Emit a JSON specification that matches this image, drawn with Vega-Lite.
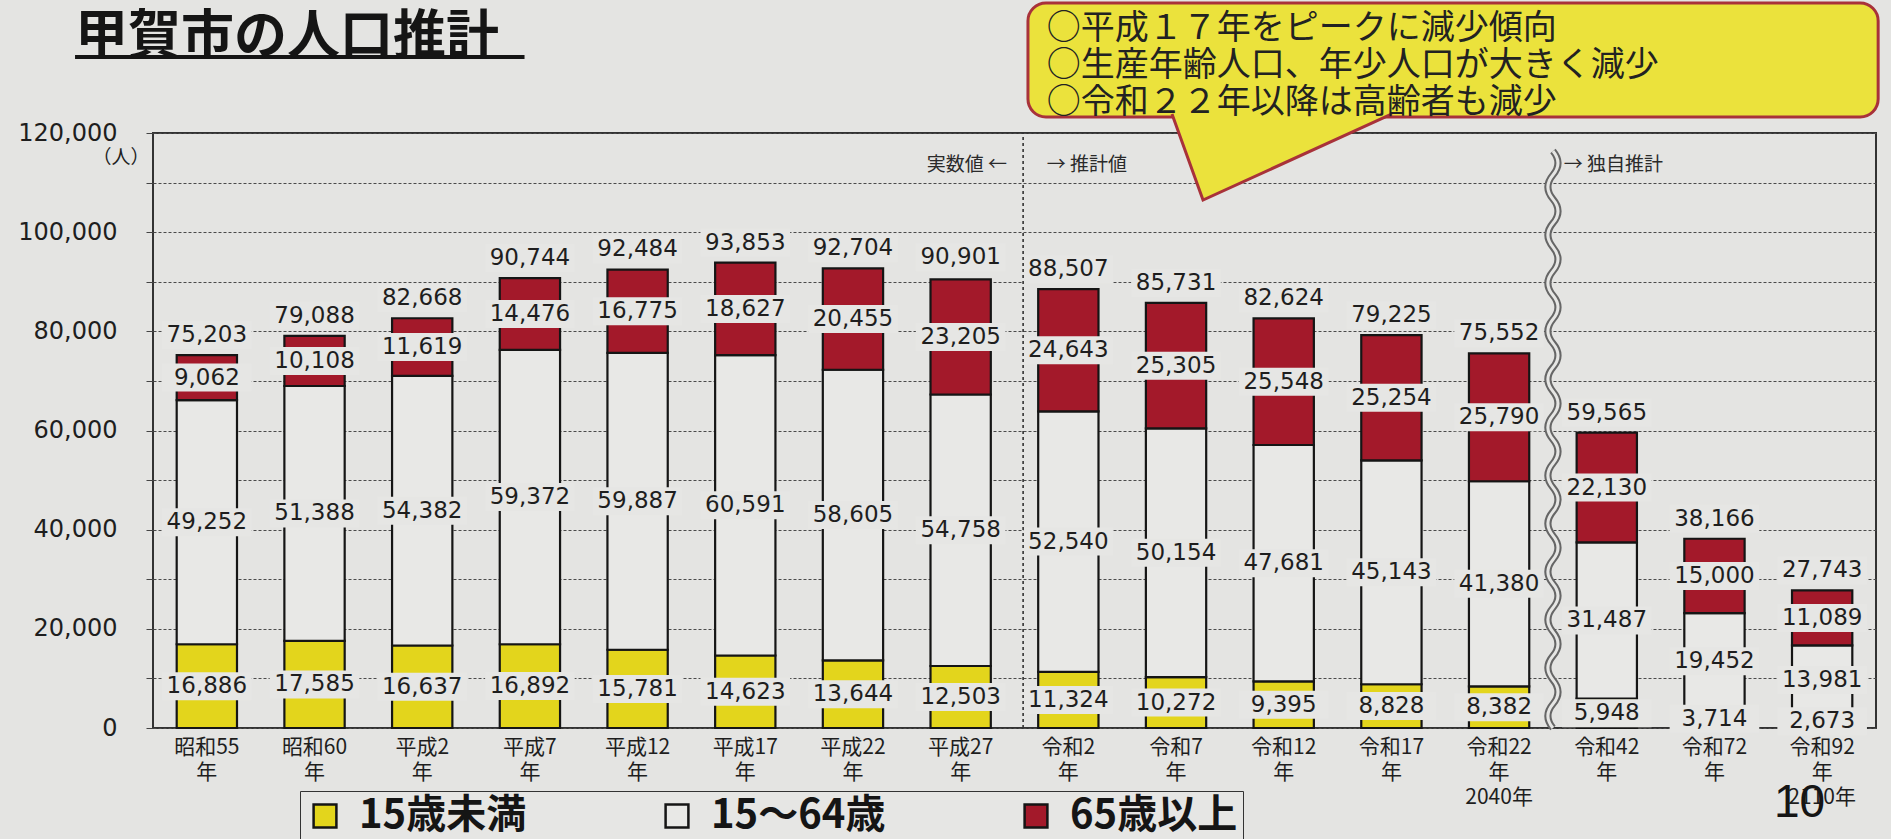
{
  "$schema": "https://vega.github.io/schema/vega-lite/v6.json",
  "width": 1723,
  "height": 595,
  "autosize": {"type": "none"},
  "padding": {"left": 153, "top": 133, "right": 15, "bottom": 111},
  "background": "#e4e4e2",
  "config": {
    "view": {"stroke": "#333333", "strokeWidth": 2, "fill": "#e4e4e2"},
    "font": "Noto Sans CJK JP"
  },
  "title": {
    "text": "甲賀市の人口推計",
    "anchor": "start",
    "frame": "group",
    "font": "Noto Sans CJK JP",
    "fontSize": 53,
    "fontWeight": "bold",
    "color": "#151515",
    "dx": -78,
    "offset": -63
  },
  "datasets": {
    "population": [
      {"year": "昭和55年", "age": "15歳未満", "population": 16886},
      {"year": "昭和55年", "age": "15～64歳", "population": 49252},
      {"year": "昭和55年", "age": "65歳以上", "population": 9062},
      {"year": "昭和60年", "age": "15歳未満", "population": 17585},
      {"year": "昭和60年", "age": "15～64歳", "population": 51388},
      {"year": "昭和60年", "age": "65歳以上", "population": 10108},
      {"year": "平成2年", "age": "15歳未満", "population": 16637},
      {"year": "平成2年", "age": "15～64歳", "population": 54382},
      {"year": "平成2年", "age": "65歳以上", "population": 11619},
      {"year": "平成7年", "age": "15歳未満", "population": 16892},
      {"year": "平成7年", "age": "15～64歳", "population": 59372},
      {"year": "平成7年", "age": "65歳以上", "population": 14476},
      {"year": "平成12年", "age": "15歳未満", "population": 15781},
      {"year": "平成12年", "age": "15～64歳", "population": 59887},
      {"year": "平成12年", "age": "65歳以上", "population": 16775},
      {"year": "平成17年", "age": "15歳未満", "population": 14623},
      {"year": "平成17年", "age": "15～64歳", "population": 60591},
      {"year": "平成17年", "age": "65歳以上", "population": 18627},
      {"year": "平成22年", "age": "15歳未満", "population": 13644},
      {"year": "平成22年", "age": "15～64歳", "population": 58605},
      {"year": "平成22年", "age": "65歳以上", "population": 20455},
      {"year": "平成27年", "age": "15歳未満", "population": 12503},
      {"year": "平成27年", "age": "15～64歳", "population": 54758},
      {"year": "平成27年", "age": "65歳以上", "population": 23205},
      {"year": "令和2年", "age": "15歳未満", "population": 11324},
      {"year": "令和2年", "age": "15～64歳", "population": 52540},
      {"year": "令和2年", "age": "65歳以上", "population": 24643},
      {"year": "令和7年", "age": "15歳未満", "population": 10272},
      {"year": "令和7年", "age": "15～64歳", "population": 50154},
      {"year": "令和7年", "age": "65歳以上", "population": 25305},
      {"year": "令和12年", "age": "15歳未満", "population": 9395},
      {"year": "令和12年", "age": "15～64歳", "population": 47681},
      {"year": "令和12年", "age": "65歳以上", "population": 25548},
      {"year": "令和17年", "age": "15歳未満", "population": 8828},
      {"year": "令和17年", "age": "15～64歳", "population": 45143},
      {"year": "令和17年", "age": "65歳以上", "population": 25254},
      {"year": "令和22年", "age": "15歳未満", "population": 8382},
      {"year": "令和22年", "age": "15～64歳", "population": 41380},
      {"year": "令和22年", "age": "65歳以上", "population": 25790},
      {"year": "令和42年", "age": "15歳未満", "population": 5948},
      {"year": "令和42年", "age": "15～64歳", "population": 31487},
      {"year": "令和42年", "age": "65歳以上", "population": 22130},
      {"year": "令和72年", "age": "15歳未満", "population": 3714},
      {"year": "令和72年", "age": "15～64歳", "population": 19452},
      {"year": "令和72年", "age": "65歳以上", "population": 15000},
      {"year": "令和92年", "age": "15歳未満", "population": 2673},
      {"year": "令和92年", "age": "15～64歳", "population": 13981},
      {"year": "令和92年", "age": "65歳以上", "population": 11089}
    ],
    "totals": [
      {"year": "昭和55年", "total": 75203},
      {"year": "昭和60年", "total": 79088},
      {"year": "平成2年", "total": 82668},
      {"year": "平成7年", "total": 90744},
      {"year": "平成12年", "total": 92484},
      {"year": "平成17年", "total": 93853},
      {"year": "平成22年", "total": 92704},
      {"year": "平成27年", "total": 90901},
      {"year": "令和2年", "total": 88507},
      {"year": "令和7年", "total": 85731},
      {"year": "令和12年", "total": 82624},
      {"year": "令和17年", "total": 79225},
      {"year": "令和22年", "total": 75552},
      {"year": "令和42年", "total": 59565},
      {"year": "令和72年", "total": 38166},
      {"year": "令和92年", "total": 27743}
    ]
  },
  "layer": [
    {
      "layer": [
        {
          "data": {"name": "population"},
          "mark": {"type": "bar", "stroke": "#151515", "strokeWidth": 2.2},
          "encoding": {
            "x": {
              "field": "year", "type": "nominal",
              "scale": {
                "domain": ["昭和55年", "昭和60年", "平成2年", "平成7年", "平成12年", "平成17年", "平成22年", "平成27年", "令和2年", "令和7年", "令和12年", "令和17年", "令和22年", "令和42年", "令和72年", "令和92年"],
                "paddingInner": 0.44, "paddingOuter": 0.22
              },
              "axis": {
                "title": null,
                "labelAngle": 0,
                "labelFont": "Noto Sans CJK JP",
                "labelFontSize": 21,
                "labelLineHeight": 25,
                "labelColor": "#1e1e1e",
                "labelPadding": 8,
                "ticks": false,
                "domain": false,
                "labelExpr": "datum.label === '令和22年' ? ['令和22', '年', '2040年'] : datum.label === '令和92年' ? ['令和92', '年', '2110年'] : [slice(datum.label, 0, -1), '年']"
              }
            },
            "y": {
              "field": "population", "type": "quantitative", "stack": "zero",
              "scale": {"domain": [0, 120000], "nice": false},
              "axis": {
                "values": [0, 10000, 20000, 30000, 40000, 50000, 60000, 70000, 80000, 90000, 100000, 110000, 120000],
                "labelExpr": "datum.value % 20000 === 0 ? format(datum.value, ',') : ''",
                "labelFont": "DejaVu Sans",
                "labelFontSize": 24,
                "labelColor": "#1e1e1e",
                "labelPadding": 29,
                "tickSize": 7,
                "tickColor": "#444444",
                "domain": false,
                "grid": true,
                "gridColor": "#4a4a4a",
                "gridDash": [3, 2],
                "gridWidth": 1,
                "title": "（人）",
                "titleAngle": 0,
                "titleAlign": "right",
                "titleBaseline": "middle",
                "titleX": -4,
                "titleY": 24,
                "titleFont": "Noto Sans CJK JP",
                "titleFontSize": 19,
                "titleFontWeight": "normal",
                "titleColor": "#1e1e1e"
              }
            },
            "color": {
              "field": "age", "type": "nominal",
              "scale": {"domain": ["15歳未満", "15～64歳", "65歳以上"], "range": ["#e3d51c", "#e8e8e6", "#a3192a"]},
              "legend": {
                "title": null,
                "orient": "none",
                "legendX": 147,
                "legendY": 658,
                "direction": "horizontal",
                "symbolType": "square",
                "symbolSize": 520,
                "symbolStrokeColor": "#151515",
                "symbolStrokeWidth": 2.5,
                "symbolOpacity": 1,
                "labelFont": "Noto Sans CJK JP",
                "labelFontSize": 40,
                "labelFontWeight": "bold",
                "labelColor": "#151515",
                "labelOffset": 14,
                "labelLimit": 400,
                "columnPadding": 130,
                "padding": 5,
                "strokeColor": "#333333",
                "fillColor": "#e6e6e4"
              }
            },
            "order": {"field": "age", "sort": "ascending"}
          }
        },
        {
          "data": {"name": "population"},
          "mark": {"type": "point", "shape": "M-3.2,-1H3.2V1H-3.2Z", "size": 784, "filled": true, "fill": "#e6e6e4", "strokeWidth": 0, "opacity": 1},
          "encoding": {
            "x": {"field": "year", "type": "nominal"},
            "y": {"field": "population", "type": "quantitative", "stack": "zero", "bandPosition": 0.5},
            "detail": {"field": "age"},
            "order": {"field": "age", "sort": "ascending"}
          }
        },
        {
          "data": {"name": "population"},
          "mark": {"type": "text", "font": "DejaVu Sans", "fontSize": 23, "color": "#1e1e1e", "baseline": "middle"},
          "encoding": {
            "x": {"field": "year", "type": "nominal"},
            "y": {"field": "population", "type": "quantitative", "stack": "zero", "bandPosition": 0.5},
            "detail": {"field": "age"},
            "order": {"field": "age", "sort": "ascending"},
            "text": {"field": "population", "type": "quantitative", "format": ","}
          }
        },
        {
          "data": {"name": "totals"},
          "mark": {"type": "point", "shape": "M-3.2,-2.43H3.2V-0.43H-3.2Z", "size": 784, "filled": true, "fill": "#e6e6e4", "strokeWidth": 0, "opacity": 1},
          "encoding": {
            "x": {"field": "year", "type": "nominal"},
            "y": {"field": "total", "type": "quantitative"}
          }
        },
        {
          "data": {"name": "totals"},
          "mark": {"type": "text", "font": "DejaVu Sans", "fontSize": 23, "color": "#1e1e1e", "baseline": "middle", "dy": -20},
          "encoding": {
            "x": {"field": "year", "type": "nominal"},
            "y": {"field": "total", "type": "quantitative"},
            "text": {"field": "total", "type": "quantitative", "format": ","}
          }
        }
      ]
    },
    {
      "data": {"values": [{}]},
      "layer": [
        {
          "mark": {"type": "rule", "stroke": "#333333", "strokeWidth": 1.6, "strokeDash": [3, 3]},
          "encoding": {
            "x": {"datum": 8.08, "type": "quantitative", "scale": {"domain": [0, 16], "nice": false, "zero": false}, "axis": null},
            "y": {"datum": 0, "type": "quantitative", "scale": {"domain": [0, 120000], "nice": false}},
            "y2": {"datum": 120000}
          }
        },
        {
          "mark": {"type": "point", "shape": "M0,-1Q0.035,-0.9583,0,-0.9167T0,-0.8333T0,-0.75T0,-0.6667T0,-0.5833T0,-0.5T0,-0.4167T0,-0.3333T0,-0.25T0,-0.1667T0,-0.0833T0,0T0,0.0833T0,0.1667T0,0.25T0,0.3333T0,0.4167T0,0.5T0,0.5833T0,0.6667T0,0.75T0,0.8333T0,0.9167T0,1", "size": 332929, "filled": false, "stroke": "#666666", "strokeWidth": 7, "opacity": 1},
          "encoding": {
            "x": {"datum": 13.0, "type": "quantitative", "scale": {"domain": [0, 16], "nice": false, "zero": false}, "axis": null},
            "y": {"datum": 58185, "type": "quantitative", "scale": {"domain": [0, 120000], "nice": false}}
          }
        },
        {
          "mark": {"type": "point", "shape": "M0,-1Q0.035,-0.9583,0,-0.9167T0,-0.8333T0,-0.75T0,-0.6667T0,-0.5833T0,-0.5T0,-0.4167T0,-0.3333T0,-0.25T0,-0.1667T0,-0.0833T0,0T0,0.0833T0,0.1667T0,0.25T0,0.3333T0,0.4167T0,0.5T0,0.5833T0,0.6667T0,0.75T0,0.8333T0,0.9167T0,1", "size": 332929, "filled": false, "stroke": "#e6e6e4", "strokeWidth": 3, "opacity": 1},
          "encoding": {
            "x": {"datum": 13.0, "type": "quantitative", "scale": {"domain": [0, 16], "nice": false, "zero": false}, "axis": null},
            "y": {"datum": 58185, "type": "quantitative", "scale": {"domain": [0, 120000], "nice": false}}
          }
        },
        {
          "mark": {"type": "text", "text": "実数値 ←", "align": "right", "baseline": "middle", "font": "Noto Sans CJK JP", "fontSize": 19, "color": "#2a2a2a"},
          "encoding": {
            "x": {"datum": 7.93, "type": "quantitative", "scale": {"domain": [0, 16], "nice": false, "zero": false}, "axis": null},
            "y": {"datum": 113546, "type": "quantitative", "scale": {"domain": [0, 120000], "nice": false}}
          }
        },
        {
          "mark": {"type": "text", "text": "→ 推計値", "align": "left", "baseline": "middle", "font": "Noto Sans CJK JP", "fontSize": 19, "color": "#2a2a2a"},
          "encoding": {
            "x": {"datum": 8.3, "type": "quantitative", "scale": {"domain": [0, 16], "nice": false, "zero": false}, "axis": null},
            "y": {"datum": 113546, "type": "quantitative", "scale": {"domain": [0, 120000], "nice": false}}
          }
        },
        {
          "mark": {"type": "text", "text": "→ 独自推計", "align": "left", "baseline": "middle", "font": "Noto Sans CJK JP", "fontSize": 19, "color": "#2a2a2a"},
          "encoding": {
            "x": {"datum": 13.1, "type": "quantitative", "scale": {"domain": [0, 16], "nice": false, "zero": false}, "axis": null},
            "y": {"datum": 113546, "type": "quantitative", "scale": {"domain": [0, 120000], "nice": false}}
          }
        },
        {
          "mark": {"type": "rect", "cornerRadius": 18, "fill": "#ebe23c", "stroke": "#a8323a", "strokeWidth": 3, "opacity": 1},
          "encoding": {
            "x": {"datum": 8.125, "type": "quantitative", "scale": {"domain": [0, 16], "nice": false, "zero": false}, "axis": null},
            "x2": {"datum": 16.02},
            "y": {"datum": 123227, "type": "quantitative", "scale": {"domain": [0, 120000], "nice": false}},
            "y2": {"datum": 146218}
          }
        },
        {
          "mark": {"type": "point", "shape": "M-1,-0.391L-0.718,0.391L1,-0.391", "size": 48400, "filled": true, "fill": "#ebe23c", "stroke": "#a8323a", "strokeWidth": 3, "opacity": 1},
          "encoding": {
            "x": {"datum": 10.484, "type": "quantitative", "scale": {"domain": [0, 16], "nice": false, "zero": false}, "axis": null},
            "y": {"datum": 115160, "type": "quantitative", "scale": {"domain": [0, 120000], "nice": false}}
          }
        },
        {
          "mark": {"type": "text", "text": ["○平成１７年をピークに減少傾向", "○生産年齢人口、年少人口が大きく減少", "○令和２２年以降は高齢者も減少"], "align": "left", "baseline": "middle", "lineHeight": 37, "font": "Noto Sans CJK JP", "fontSize": 34, "color": "#222222"},
          "encoding": {
            "x": {"datum": 8.3, "type": "quantitative", "scale": {"domain": [0, 16], "nice": false, "zero": false}, "axis": null},
            "y": {"datum": 140975, "type": "quantitative", "scale": {"domain": [0, 120000], "nice": false}}
          }
        },
        {
          "mark": {"type": "rule", "stroke": "#151515", "strokeWidth": 4},
          "encoding": {
            "x": {"datum": -0.724, "type": "quantitative", "scale": {"domain": [0, 16], "nice": false, "zero": false}, "axis": null},
            "x2": {"datum": 3.45},
            "y": {"datum": 135328, "type": "quantitative", "scale": {"domain": [0, 120000], "nice": false}}
          }
        },
        {
          "mark": {"type": "text", "text": "10", "align": "center", "baseline": "middle", "font": "Liberation Sans", "fontSize": 46, "color": "#151515"},
          "encoding": {
            "x": {"datum": 15.29, "type": "quantitative", "scale": {"domain": [0, 16], "nice": false, "zero": false}, "axis": null},
            "y": {"datum": -15126, "type": "quantitative", "scale": {"domain": [0, 120000], "nice": false}}
          }
        }
      ]
    }
  ],
  "resolve": {"scale": {"x": "independent"}}
}
